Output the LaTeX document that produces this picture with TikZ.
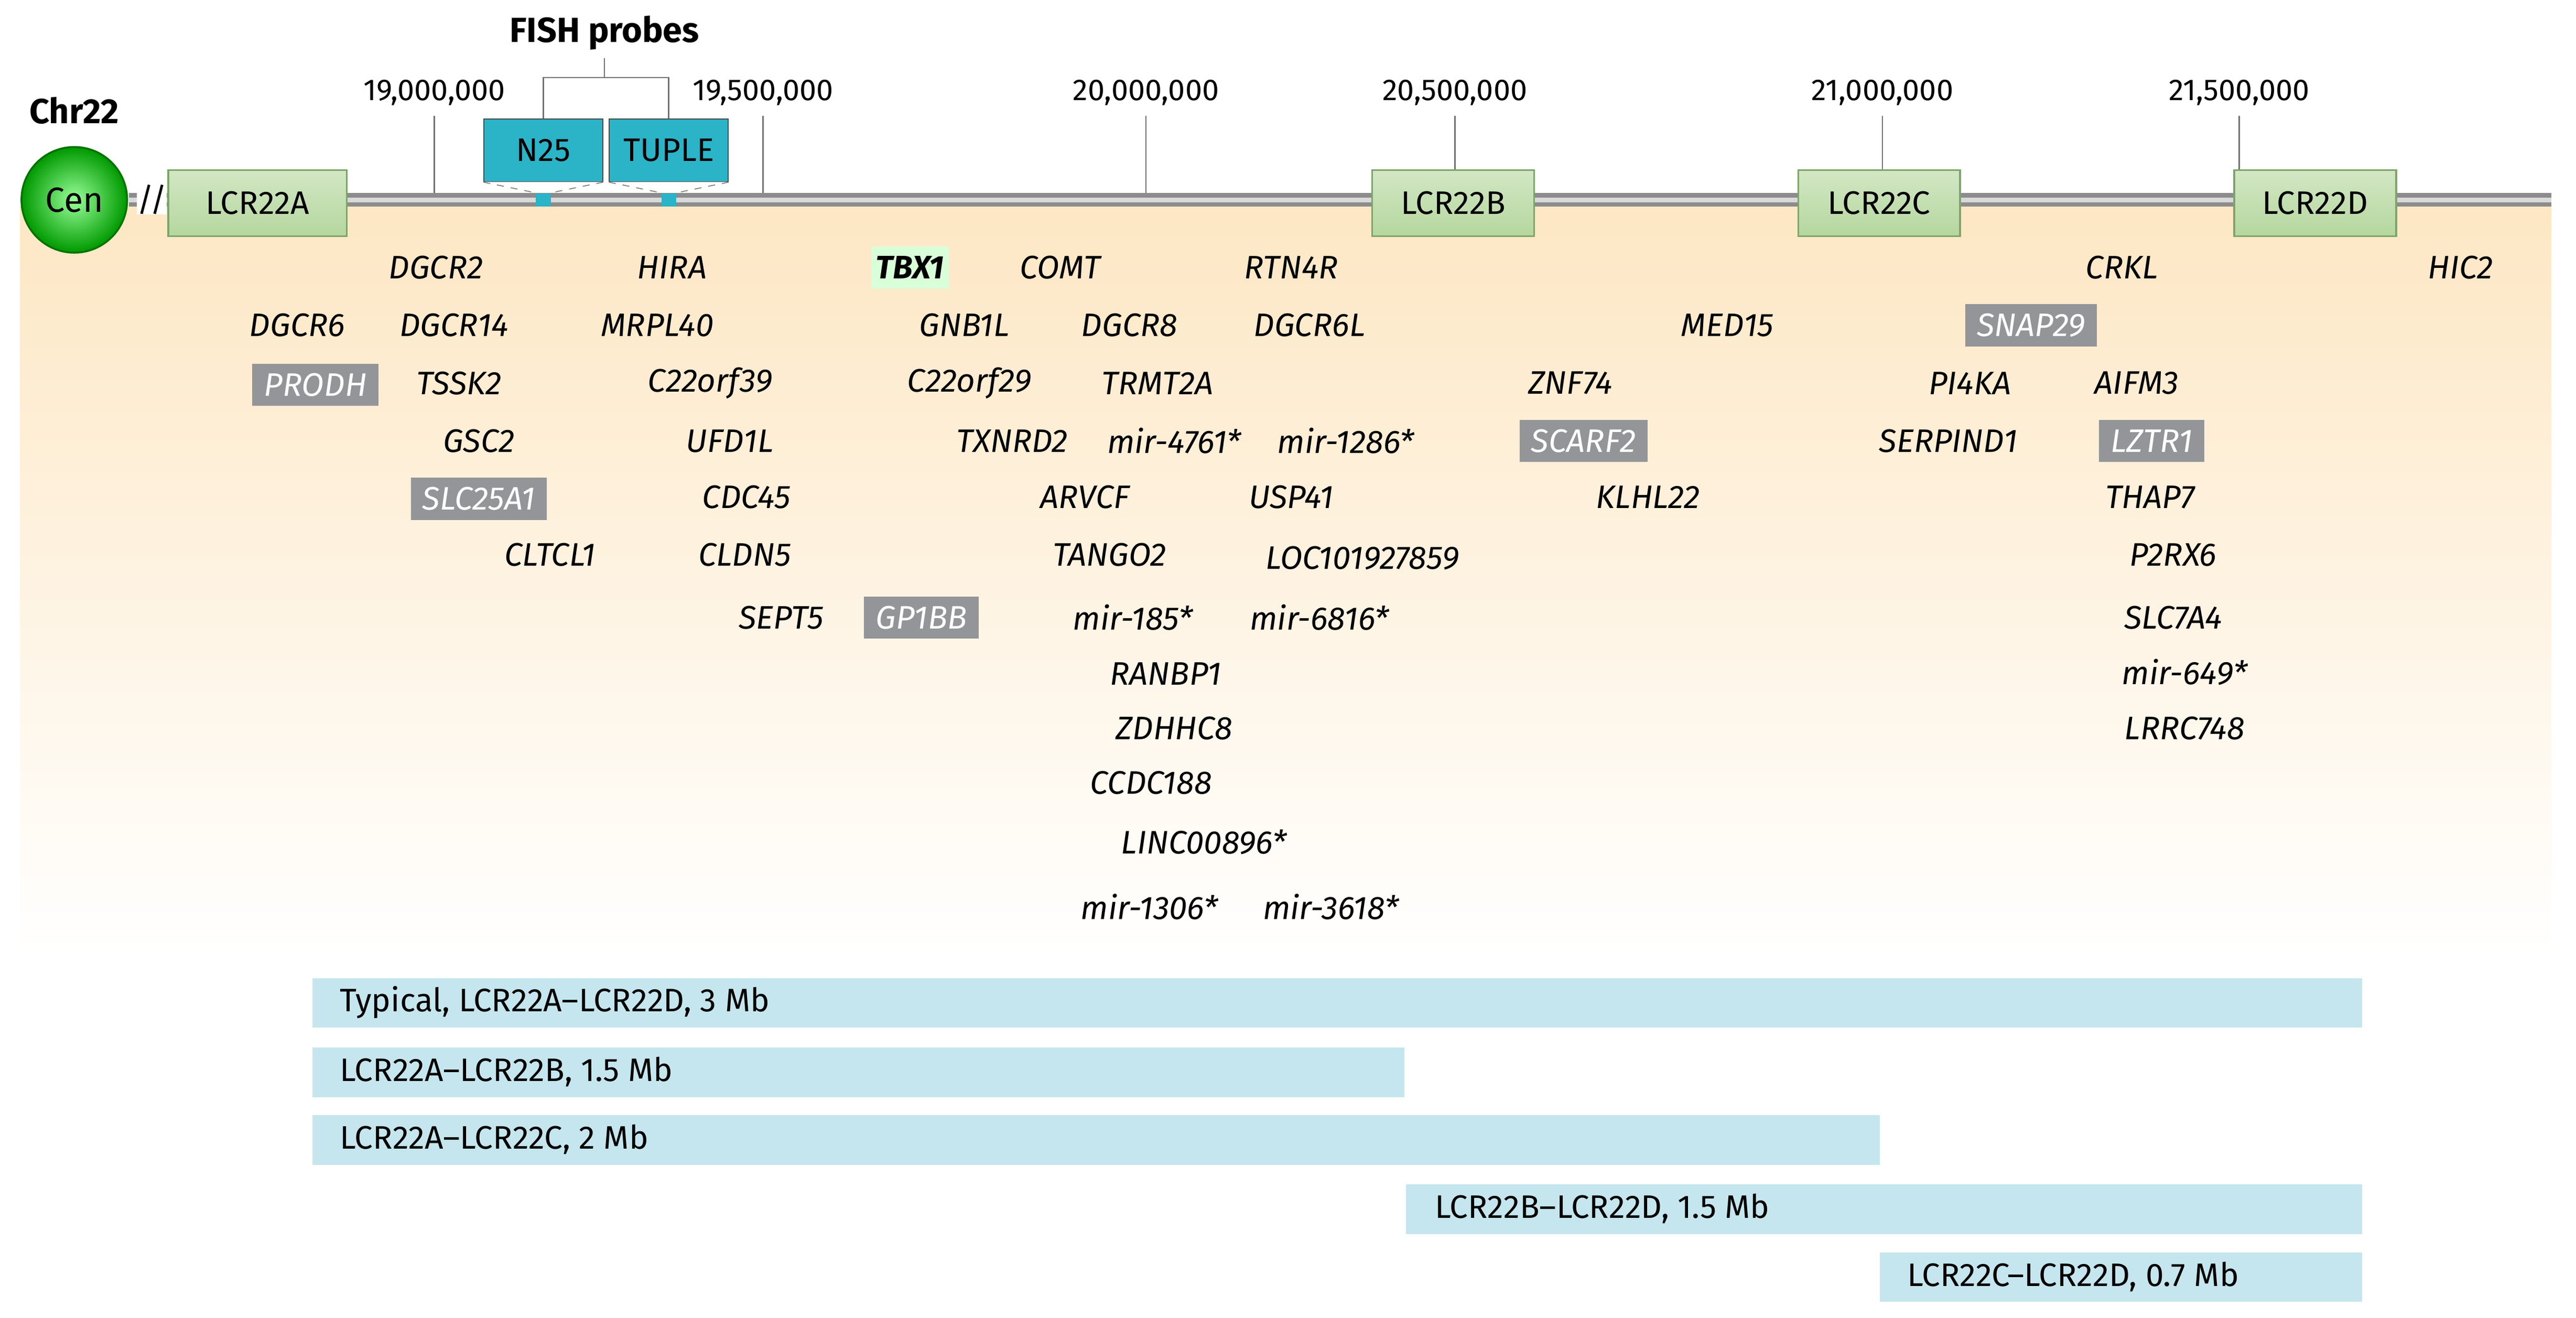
\documentclass[tikz,border=0pt]{standalone}
\usepackage{fontspec}
\setmainfont{Fira Sans}
\usetikzlibrary{shapes.geometric}
\definecolor{lcrg}{HTML}{B5D79E}
\definecolor{lcrb}{HTML}{7FA56A}
\definecolor{probe}{HTML}{2BB3C8}
\definecolor{bar}{HTML}{C5E6EE}
\definecolor{grayb}{HTML}{939598}
\definecolor{bg}{HTML}{FDE7C4}
\begin{document}
\begin{tikzpicture}[x=0.025cm,y=-0.025cm,
  gene/.style={font=\fontsize{14}{16}\selectfont\itshape,inner sep=2pt},
  ggene/.style={gene,fill=grayb,text=white,minimum height=0.64cm,inner xsep=5pt},
  lcr/.style={draw=lcrb,line width=0.8pt,top color=lcrg!60,bottom color=lcrg,font=\fontsize{14}{16}\selectfont,minimum width=2.45cm,minimum height=1cm,inner sep=0pt},
  prb/.style={draw=black!70,fill=probe,font=\fontsize{14}{16}\selectfont,minimum width=1.8cm,minimum height=0.95cm,inner sep=0pt},
  tick/.style={font=\fontsize{13}{15}\selectfont},
  tl/.style={draw=black!55,line width=0.6pt},
  barn/.style={fill=bar,anchor=north west,minimum height=0.75cm,inner sep=0pt},
  bt/.style={anchor=west,font=\fontsize{14}{16}\selectfont}]
\useasboundingbox (0,0) rectangle (1560,798);
\fill[top color=bg,bottom color=white] (12,125) rectangle (1545,580);
% ticks
\foreach \x/\l/\n in {263/19{,}000{,}000/t1,462/19{,}500{,}000/t2,694/20{,}000{,}000/t3,881/20{,}500{,}000/t4,1140/21{,}000{,}000/t5,1356/21{,}500{,}000/t6}{
  \node[tick] (\n) at (\x,56) {\l};
  \draw[tl] (\x,70) -- (\x,118);}
% chromosome
\draw[black!45,line width=6pt] (78,121) -- (1545,121);
\draw[white!85!black,line width=2pt] (78,121) -- (1545,121);
\node[circle,draw=green!45!black,line width=0.8pt,inner color=green!40,outer color=green!60!black,minimum size=1.6cm,inner sep=0pt,font=\fontsize{15}{17}\selectfont] (cen) at (45,121) {Cen};
\node[font=\fontsize{14}{16}\selectfont,fill=white,inner sep=0pt] (brk) at (92,121) {//};
\node[font=\bfseries\fontsize{15}{17}\selectfont] (chr) at (45,67) {Chr22};
\node[lcr,minimum width=2.7cm] (A) at (156,123) {LCR22A};
\node[lcr] (B) at (880,123) {LCR22B};
\node[lcr] (C) at (1138,123) {LCR22C};
\node[lcr] (D) at (1402,123) {LCR22D};
% probes
\node[font=\bfseries\fontsize{15}{17}\selectfont] (fish) at (366,20) {FISH probes};
\node[prb] (n25) at (329,91) {N25};
\node[prb] (tup) at (405,91) {TUPLE};
\node[fill=probe,minimum width=0.225cm,minimum height=0.2cm,inner sep=0pt] (s1) at (329,121) {};
\node[fill=probe,minimum width=0.225cm,minimum height=0.2cm,inner sep=0pt] (s2) at (405,121) {};
\draw[tl] (fish.south) -- (366,47) coordinate (bm);
\draw[tl] (n25.north) |- (bm) -| (tup.north);
\draw[black!50,dashed] (n25.south west) -- (s1.north west) (n25.south east) -- (s1.north east);
\draw[black!50,dashed] (tup.south west) -- (s2.north west) (tup.south east) -- (s2.north east);
% genes
\node[gene] (g1) at (264,162) {DGCR2};
\node[gene] (g2) at (407,162) {HIRA};
\node[gene,fill=green!15,font=\fontsize{14}{16}\selectfont\bfseries\itshape,minimum height=0.64cm] (g3) at (551,162) {TBX1};
\node[gene] (g4) at (642,162) {COMT};
\node[gene] (g5) at (782,162) {RTN4R};
\node[gene] (g6) at (1285,162) {CRKL};
\node[gene] (g7) at (1490,162) {HIC2};
\node[gene] (g8) at (180,197) {DGCR6};
\node[gene] (g9) at (275,197) {DGCR14};
\node[gene] (g10) at (398,197) {MRPL40};
\node[gene] (g11) at (584,197) {GNB1L};
\node[gene] (g12) at (684,197) {DGCR8};
\node[gene] (g13) at (793,197) {DGCR6L};
\node[gene] (g14) at (1046,197) {MED15};
\node[ggene] (g15) at (1230,197) {SNAP29};
\node[ggene] (g16) at (191,233) {PRODH};
\node[gene] (g17) at (278,232) {TSSK2};
\node[gene] (g18) at (430,232) {C22orf39};
\node[gene] (g19) at (587,232) {C22orf29};
\node[gene] (g20) at (701,232) {TRMT2A};
\node[gene] (g21) at (951,232) {ZNF74};
\node[gene] (g22) at (1193,232) {PI4KA};
\node[gene] (g23) at (1294,232) {AIFM3};
\node[gene] (g24) at (290,267) {GSC2};
\node[gene] (g25) at (442,267) {UFD1L};
\node[gene] (g26) at (613,267) {TXNRD2};
\node[gene] (g27) at (711,267) {mir-4761*};
\node[gene] (g28) at (815,267) {mir-1286*};
\node[ggene] (g29) at (959,267) {SCARF2};
\node[gene] (g30) at (1180,267) {SERPIND1};
\node[ggene] (g31) at (1303,267) {LZTR1};
\node[ggene] (g32) at (290,302) {SLC25A1};
\node[gene] (g33) at (452,301) {CDC45};
\node[gene] (g34) at (657,301) {ARVCF};
\node[gene] (g35) at (782,301) {USP41};
\node[gene] (g36) at (998,301) {KLHL22};
\node[gene] (g37) at (1302,301) {THAP7};
\node[gene] (g38) at (333,336) {CLTCL1};
\node[gene] (g39) at (451,336) {CLDN5};
\node[gene] (g40) at (672,336) {TANGO2};
\node[gene] (g41) at (825,338) {LOC101927859};
\node[gene] (g42) at (1316,336) {P2RX6};
\node[gene] (g43) at (473,374) {SEPT5};
\node[ggene] (g44) at (558,374) {GP1BB};
\node[gene] (g45) at (686,374) {mir-185*};
\node[gene] (g46) at (799,374) {mir-6816*};
\node[gene] (g47) at (1316,374) {SLC7A4};
\node[gene] (g48) at (706,408) {RANBP1};
\node[gene] (g49) at (1323,407) {mir-649*};
\node[gene] (g50) at (711,441) {ZDHHC8};
\node[gene] (g51) at (1323,441) {LRRC748};
\node[gene] (g52) at (697,474) {CCDC188};
\node[gene] (g53) at (729,510) {LINC00896*};
\node[gene] (g54) at (696,549) {mir-1306*};
\node[gene] (g55) at (806,549) {mir-3618*};
% deletion bars
\node[barn,minimum width=31.025cm] (d1) at (189,592) {}; \node[bt] (t1b) at (201,607) {Typical, LCR22A–LCR22D, 3 Mb};
\node[barn,minimum width=16.525cm] (d2) at (189,634) {}; \node[bt] (t2b) at (201,649) {LCR22A–LCR22B, 1.5 Mb};
\node[barn,minimum width=23.725cm] (d3) at (189,675) {}; \node[bt] (t3b) at (201,690) {LCR22A–LCR22C, 2 Mb};
\node[barn,minimum width=14.475cm] (d4) at (851,717) {}; \node[bt] (t4b) at (864,732) {LCR22B–LCR22D, 1.5 Mb};
\node[barn,minimum width=7.3cm] (d5) at (1138,758) {}; \node[bt] (t5b) at (1150,773) {LCR22C–LCR22D, 0.7 Mb};
\end{tikzpicture}
\end{document}
